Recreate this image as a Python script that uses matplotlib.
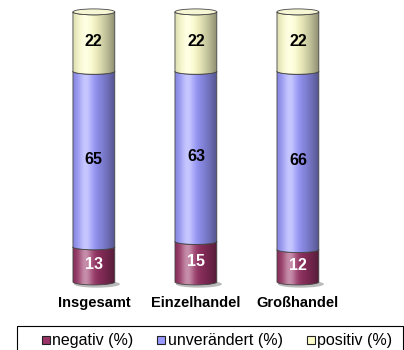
import numpy as np
import matplotlib.pyplot as plt
import matplotlib.patches as mpatches
from matplotlib.lines import Line2D

plt.rcParams['font.family'] = ['Liberation Sans', 'DejaVu Sans']

categories = ['Insgesamt', 'Einzelhandel', 'Großhandel']
negativ = [13, 15, 12]
unveraendert = [65, 63, 66]
positiv = [22, 22, 22]
series_labels = ['negativ (%)', 'unverändert (%)', 'positiv (%)']
series_colors = ['#993366', '#9999ff', '#ffffcc']
label_colors = ['white', 'black', 'black']

bar_w = 0.41
ell_b = 1.1   # half height of the ellipses in data units


def shade(color, n=200):
    # horizontal cylinder shading: dark edges, highlight left of centre
    c = np.array(plt.matplotlib.colors.to_rgb(color))
    t = np.linspace(0, 1, n)
    dark = 0.45 * (np.abs(t - 0.32) / 0.68) ** 1.6
    light = 0.45 * np.exp(-((t - 0.3) / 0.16) ** 2)
    col = c[None, :] * (1 - dark[:, None])
    col = col + (1 - col) * light[:, None]
    return np.clip(col, 0, 1)[None, :, :]


def lower_arc(xc, y, reverse=False):
    th = np.linspace(np.pi, 2 * np.pi, 60)
    pts = np.column_stack([xc + bar_w / 2 * np.cos(th), y + ell_b * np.sin(th)])
    return pts[::-1] if reverse else pts


fig = plt.figure(figsize=(4.04, 3.5), dpi=100)
ax = fig.add_axes([0, 0, 1, 1])
ax.axis('off')

data = np.array([negativ, unveraendert, positiv])
for i, cat in enumerate(categories):
    # soft shadow under the bar
    ax.add_patch(mpatches.Ellipse((i + 0.03, -0.8), bar_w * 1.1, ell_b * 2.4,
                                  facecolor='#bbbbbb', edgecolor='none', zorder=1))
    bottom = 0
    for s in range(3):
        top = bottom + data[s, i]
        poly = np.vstack([lower_arc(i, bottom), lower_arc(i, top, reverse=True)])
        patch = mpatches.Polygon(poly, closed=True, facecolor='none',
                                 edgecolor='#444444', linewidth=0.6, zorder=3 + s)
        ax.add_patch(patch)
        im = ax.imshow(shade(series_colors[s]), aspect='auto',
                       extent=[i - bar_w / 2, i + bar_w / 2, bottom - ell_b, top],
                       zorder=2 + s, interpolation='bilinear')
        im.set_clip_path(patch)
        ax.text(i, (bottom + top) / 2, str(data[s, i]), ha='center', va='center',
                fontsize=11.5, fontweight='bold', color=label_colors[s], zorder=10)
        bottom = top
    # top cap
    cap = mpatches.Ellipse((i, bottom), bar_w, ell_b * 2, facecolor='#f6f6d4',
                           edgecolor='#444444', linewidth=0.6, zorder=8)
    ax.add_patch(cap)
    ax.text(i, -7.8, cat, ha='center', va='center', fontsize=10.5, fontweight='bold')

ax.set_xlim(-0.92, 3.04)
ax.set_ylim(-25.2, 104.4)

# legend box
fig.patches.append(mpatches.Rectangle((17 / 404, -0.02), 386 / 404, 24 / 350 + 0.02,
                                      transform=fig.transFigure, facecolor='white',
                                      edgecolor='black', linewidth=0.8))
handles = [Line2D([], [], linestyle='none', marker='s', markersize=6,
                  markerfacecolor=c, markeredgecolor='#222222', markeredgewidth=0.8)
           for c in series_colors]
fig.legend(handles, series_labels, loc='center', bbox_to_anchor=(0.537, 9 / 350),
           ncol=3, frameon=False, fontsize=11.5, handlelength=0.5, handletextpad=0.15,
           columnspacing=1.5)

fig.savefig('out.png', dpi=100)
